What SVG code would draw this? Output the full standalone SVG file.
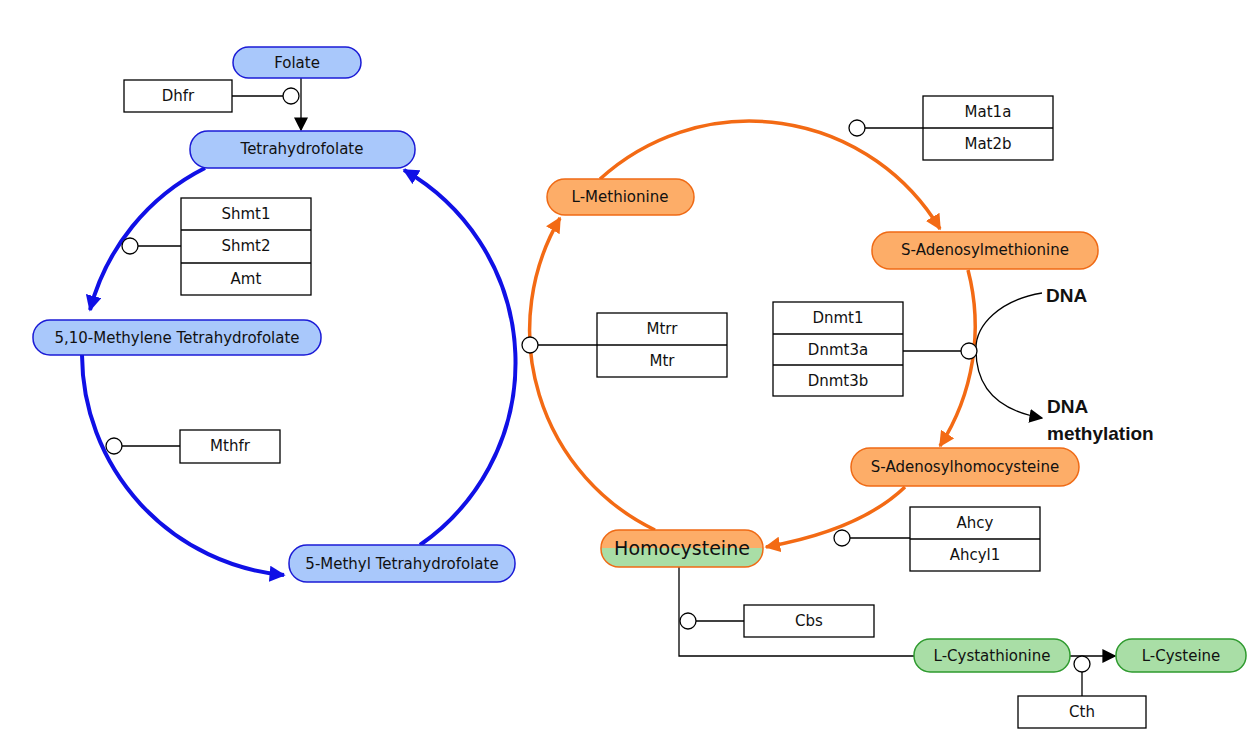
<svg xmlns="http://www.w3.org/2000/svg" width="1256" height="740" viewBox="0 0 1256 740">
<style>
text{font-family:"DejaVu Sans",Verdana,sans-serif;font-size:15px;text-anchor:middle;dominant-baseline:central;fill:#111}
.b{fill:#a9c8fb;stroke:#1b1bd6;stroke-width:1.5}
.o{fill:#fdad68;stroke:#ef6a15;stroke-width:1.5}
.g{fill:#a9dea6;stroke:#2e9a2e;stroke-width:1.5}
.e{fill:#fff;stroke:#000;stroke-width:1.3}
.c{fill:#fff;stroke:#000;stroke-width:1.3}
.l{fill:none;stroke:#000;stroke-width:1.3}
.ba{fill:none;stroke:#1010e6;stroke-width:4;marker-end:url(#mb)}
.oa{fill:none;stroke:#f36a14;stroke-width:3.5;marker-end:url(#mo)}
</style>
<defs>
<marker id="mb" viewBox="0 0 10 10" refX="9" refY="5" markerWidth="4" markerHeight="4" orient="auto" markerUnits="strokeWidth"><path d="M0,0L10,5L0,10z" fill="#1010e6"/></marker>
<marker id="mo" viewBox="0 0 10 10" refX="9" refY="5" markerWidth="4.5" markerHeight="4.5" orient="auto" markerUnits="strokeWidth"><path d="M0,0L10,5L0,10z" fill="#f36a14"/></marker>
<marker id="mk" viewBox="0 0 10 10" refX="9" refY="5" markerWidth="14" markerHeight="14" orient="auto" markerUnits="userSpaceOnUse"><path d="M0,0L10,5L0,10z" fill="#000"/></marker>
<linearGradient id="hg" x1="0" y1="0" x2="0" y2="1"><stop offset="0.5" stop-color="#fdad68"/><stop offset="0.5" stop-color="#a9dea6"/></linearGradient>
</defs>
<g id="connectors">
<path class="ba" d="M205,168 A222,222 0 0 0 90,310"/>
<path class="ba" d="M82,355 A222,222 0 0 0 284,575"/>
<path class="ba" d="M420,545 A222,222 0 0 0 404,170"/>
<path class="oa" d="M655,530 A222,222 0 0 1 560,218"/>
<path class="oa" d="M600,179 A222,222 0 0 1 940,229"/>
<path class="oa" d="M968,270 A222,222 0 0 1 940,446"/>
<path class="oa" d="M905,487 Q860,530 766,547"/>
<path class="l" d="M301,78 V130" marker-end="url(#mk)"/>
<path class="l" d="M232,96 H283"/>
<path class="l" d="M311,246 H138"/>
<path class="l" d="M180,446 H122"/>
<path class="l" d="M597,345 H538"/>
<path class="l" d="M923,128 H865"/>
<path class="l" d="M903,351 H961"/>
<path class="l" d="M910,538 H850"/>
<path class="l" d="M744,621 H696"/>
<path class="l" d="M679,567 V656 H914"/>
<path class="l" d="M1070,656 H1115" marker-end="url(#mk)"/>
<path class="l" d="M1082,672 V696"/>
<path class="l" d="M1042,293 C1000,300 975,325 976,350 C976,385 995,410 1042,418" marker-end="url(#mk)"/>
<circle class="c" cx="291" cy="96" r="8"/>
<circle class="c" cx="130" cy="246" r="8"/>
<circle class="c" cx="114" cy="446" r="8"/>
<circle class="c" cx="530" cy="345" r="8"/>
<circle class="c" cx="857" cy="128" r="8"/>
<circle class="c" cx="969" cy="351" r="8"/>
<circle class="c" cx="842" cy="538" r="8"/>
<circle class="c" cx="688" cy="621" r="8"/>
<circle class="c" cx="1082" cy="664" r="8"/>
</g>
<g id="folate"><rect class="b" x="233" y="47" width="128" height="31" rx="15.5"/><text x="297" y="63">Folate</text></g>
<g id="thf"><rect class="b" x="190" y="131" width="225" height="37" rx="18"/><text x="302" y="149">Tetrahydrofolate</text></g>
<g id="mthf510"><rect class="b" x="33" y="320" width="288" height="35" rx="17"/><text x="177" y="338">5,10-Methylene Tetrahydrofolate</text></g>
<g id="mthf5"><rect class="b" x="289" y="545" width="226" height="37" rx="18"/><text x="402" y="564">5-Methyl Tetrahydrofolate</text></g>
<g id="met"><rect class="o" x="547" y="179" width="147" height="36" rx="18"/><text x="620" y="197">L-Methionine</text></g>
<g id="sam"><rect class="o" x="872" y="232" width="226" height="37" rx="18"/><text x="985" y="250">S-Adenosylmethionine</text></g>
<g id="sah"><rect class="o" x="851" y="448" width="228" height="38" rx="19"/><text x="965" y="467">S-Adenosylhomocysteine</text></g>
<g id="hcy"><rect x="601" y="530" width="162" height="37" rx="18" fill="url(#hg)" stroke="#ef6a15" stroke-width="1.5"/><text x="682" y="548" style="font-size:19px">Homocysteine</text></g>
<g id="cysta"><rect class="g" x="914" y="639" width="156" height="33" rx="16"/><text x="992" y="656">L-Cystathionine</text></g>
<g id="cys"><rect class="g" x="1116" y="639" width="130" height="33" rx="16"/><text x="1181" y="656">L-Cysteine</text></g>
<g id="dhfr"><rect class="e" x="124" y="80" width="108" height="32"/><text x="178" y="96">Dhfr</text></g>
<g id="shmt"><rect class="e" x="181" y="198" width="130" height="97"/><path class="l" d="M181,230H311M181,263H311"/><text x="246" y="214">Shmt1</text><text x="246" y="246">Shmt2</text><text x="246" y="279">Amt</text></g>
<g id="mthfr"><rect class="e" x="180" y="430" width="100" height="33"/><text x="230" y="446">Mthfr</text></g>
<g id="mtr"><rect class="e" x="597" y="313" width="130" height="64"/><path class="l" d="M597,345H727"/><text x="662" y="329">Mtrr</text><text x="662" y="361">Mtr</text></g>
<g id="mat"><rect class="e" x="923" y="96" width="130" height="64"/><path class="l" d="M923,128H1053"/><text x="988" y="112">Mat1a</text><text x="988" y="144">Mat2b</text></g>
<g id="dnmt"><rect class="e" x="773" y="302" width="130" height="94"/><path class="l" d="M773,334H903M773,365H903"/><text x="838" y="318">Dnmt1</text><text x="838" y="350">Dnmt3a</text><text x="838" y="381">Dnmt3b</text></g>
<g id="ahcy"><rect class="e" x="910" y="507" width="130" height="64"/><path class="l" d="M910,539H1040"/><text x="975" y="523">Ahcy</text><text x="975" y="555">Ahcyl1</text></g>
<g id="cbs"><rect class="e" x="744" y="605" width="130" height="32"/><text x="809" y="621">Cbs</text></g>
<g id="cth"><rect class="e" x="1018" y="696" width="128" height="32"/><text x="1082" y="712">Cth</text></g>
<g id="dna" style="font-family:'Liberation Sans',Arial,sans-serif;font-weight:bold;font-size:19px">
<text x="1046" y="295" style="text-anchor:start;font-family:'Liberation Sans',Arial,sans-serif;font-weight:bold;font-size:19px">DNA</text>
<text x="1047" y="406" style="text-anchor:start;font-family:'Liberation Sans',Arial,sans-serif;font-weight:bold;font-size:19px">DNA</text>
<text x="1047" y="433" style="text-anchor:start;font-family:'Liberation Sans',Arial,sans-serif;font-weight:bold;font-size:19px">methylation</text>
</g>
</svg>
